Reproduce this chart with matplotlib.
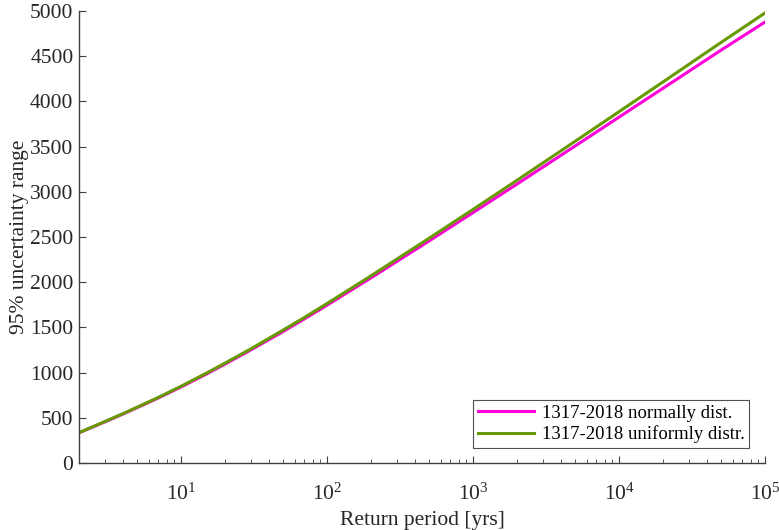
import matplotlib
matplotlib.use("Agg")
import matplotlib.pyplot as plt

plt.rcParams['font.family'] = ['Liberation Serif', 'DejaVu Serif']
plt.rcParams['mathtext.fontset'] = 'custom'
plt.rcParams['mathtext.rm'] = 'Liberation Serif'
plt.rcParams['mathtext.it'] = 'Liberation Serif:italic'

# return periods [yrs]
return_period = [2, 3, 4, 5, 7, 10, 15, 20, 30, 50, 70, 100, 200, 500,
                 1000, 2000, 5000, 10000, 20000, 50000, 100000]
# 95% uncertainty range, normal distribution
normal_dist = [334, 454, 542, 612, 720, 841, 986, 1094, 1250, 1454, 1594,
               1746, 2048, 2456, 2770, 3085, 3506, 3826, 4145, 4567, 4878]
# 95% uncertainty range, uniform distribution
uniform_dist = [336, 458, 546, 617, 726, 849, 996, 1105, 1262, 1470, 1610,
                1764, 2070, 2486, 2805, 3127, 3558, 3886, 4215, 4652, 4978]

labels = ['1317-2018 normally dist.', '1317-2018 uniformly distr.']
colors = ['#FF00D8', '#679A00']

fig = plt.figure(figsize=(7.79, 5.30), dpi=100)
ax = fig.add_axes([79 / 779, 67 / 530, 686 / 779, 452 / 530])

ax.plot(return_period, normal_dist, color=colors[0], lw=2.2, label=labels[0])
ax.plot(return_period, uniform_dist, color=colors[1], lw=2.2, label=labels[1])

ax.set_xscale('log')
ax.set_xlim(2, 1e5)
ax.set_ylim(0, 5000)
ax.set_yticks(range(0, 5001, 500))

axcol = '#404040'
txtcol = '#262626'
for s in ['top', 'right']:
    ax.spines[s].set_visible(False)
for s in ['left', 'bottom']:
    ax.spines[s].set_color(axcol)
    ax.spines[s].set_linewidth(1.0)
ax.tick_params(which='both', direction='in', colors=axcol, labelcolor=txtcol,
               labelsize=15.5)
ax.tick_params(which='major', length=5)
ax.tick_params(which='minor', length=3)
ax.tick_params(axis='x', which='major', pad=15)
ax.tick_params(axis='y', which='major', pad=4)

ax.set_xlabel('Return period [yrs]', fontsize=15.5, color=txtcol, labelpad=4)
ax.set_ylabel('95% uncertainty range', fontsize=15.5, color=txtcol, labelpad=1)

leg = ax.legend(loc='lower right', bbox_to_anchor=(0.977, 0.033), fontsize=13.5,
                frameon=True, fancybox=False, edgecolor=txtcol,
                handlelength=3.0, borderpad=0.25, labelspacing=0.2,
                handletextpad=0.4, borderaxespad=0)
leg.get_frame().set_linewidth(0.8)

fig.savefig('out.png', dpi=100)
